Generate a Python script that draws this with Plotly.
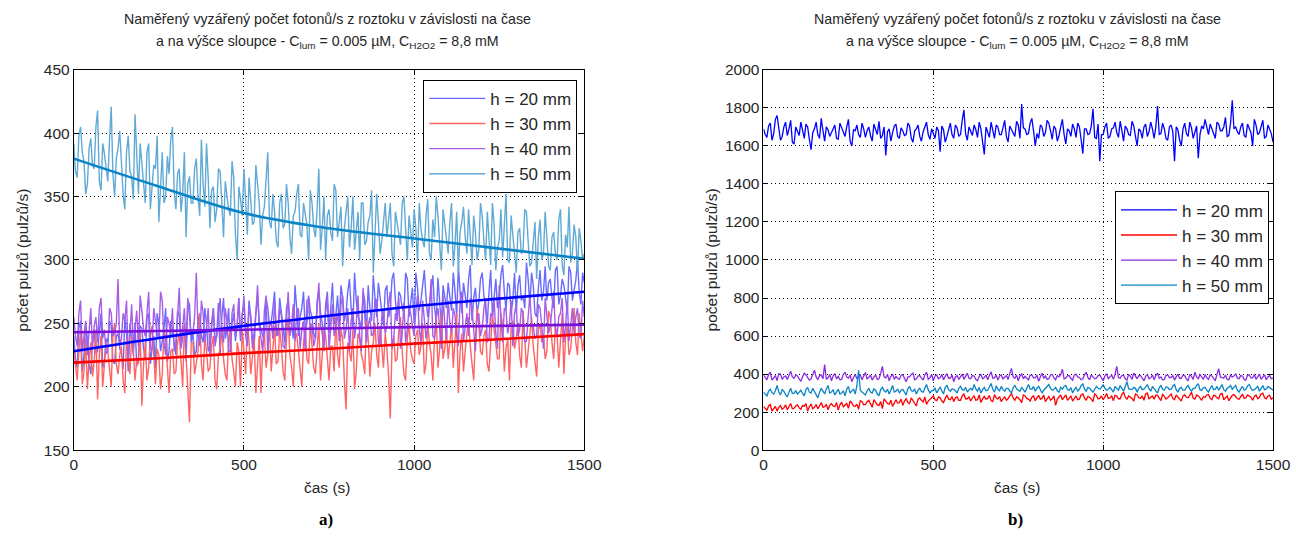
import plotly.graph_objects as go

# ---------------- data ----------------
step_s = 10  # time step of the main samples (s); *_mid samples lie half-way between

# panel a) noisy records
a_h20 = [240, 215, 252, 225, 238, 210, 245, 228, 258, 220,
         235, 248, 218, 242, 226, 255, 212, 238, 250, 224,
         246, 222, 258, 230, 215, 250, 236, 262, 228, 244,
         225, 256, 238, 220, 265, 242, 228, 258, 235, 250,
         232, 262, 240, 225, 270, 245, 230, 258, 248, 236,
         265, 240, 255, 232, 272, 246, 238, 262, 250, 275,
         242, 258, 235, 268, 250, 280, 240, 262, 245, 272,
         255, 238, 276, 250, 265, 242, 282, 256, 248, 270,
         258, 285, 246, 268, 252, 275, 240, 262, 288, 255,
         270, 248, 280, 262, 290, 252, 272, 258, 285, 265,
         250, 278, 268, 292, 255, 275, 262, 286, 248, 272,
         282, 260, 276, 295, 258, 270, 285, 252, 278, 266,
         290, 262, 275, 256, 285, 270, 296, 260, 280, 268,
         258, 288, 272, 298, 265, 280, 255, 292, 275, 268,
         285, 262, 295, 272, 280, 258, 290, 276, 300, 265, 282]
a_h20_mid = [222, 246, 212, 250, 218, 236, 226, 244, 215, 238,
             252, 220, 240, 230, 214, 242, 250, 225, 216, 248,
             230, 254, 218, 240, 258, 228, 245, 220, 252, 236,
             260, 230, 248, 268, 235, 225, 252, 240, 262, 228,
             250, 238, 266, 255, 238, 262, 250, 236, 270, 258,
             245, 268, 236, 258, 250, 240, 270, 248, 262, 240,
             270, 245, 262, 250, 238, 262, 255, 275, 250, 260,
             242, 268, 258, 238, 275, 262, 250, 272, 280, 252,
             275, 262, 290, 256, 245, 268, 280, 252, 270, 282,
             258, 276, 255, 285, 268, 275, 262, 290, 255, 278,
             290, 260, 282, 270, 265, 288, 252, 270, 280, 262,
             268, 290, 255, 275, 282, 262, 296, 270, 258, 285,
             272, 250, 292, 268, 262, 288, 275, 282, 258, 290,
             280, 268, 262, 285, 290, 258, 278, 268, 295, 282,
             270, 292, 265, 285, 270, 295, 268, 284, 275, 290]
a_h30 = [230, 205, 245, 212, 198, 235, 220, 190, 240, 215,
         228, 200, 250, 210, 232, 195, 222, 240, 205, 218,
         185, 235, 215, 248, 202, 225, 210, 238, 195, 230,
         212, 242, 200, 225, 172, 235, 218, 258, 205, 228,
         215, 240, 198, 230, 222, 205, 245, 212, 235, 200,
         228, 250, 210, 238, 218, 195, 242, 225, 212, 248,
         220, 232, 205, 255, 215, 238, 228, 200, 245, 218,
         235, 210, 250, 225, 240, 205, 232, 258, 215, 238,
         182, 228, 245, 212, 238, 220, 252, 208, 235, 225,
         248, 215, 230, 175, 240, 222, 255, 210, 238, 228,
         218, 245, 232, 210, 250, 225, 240, 215, 258, 230,
         222, 248, 235, 195, 242, 228, 255, 218, 238, 250,
         225, 245, 212, 258, 235, 222, 248, 230, 205, 252,
         238, 225, 260, 215, 245, 232, 208, 250, 240, 228,
         255, 222, 242, 235, 210, 248, 230, 262, 225, 245, 240]
a_h30_mid = [215, 228, 202, 238, 222, 208, 245, 225, 200, 235,
             212, 242, 218, 225, 205, 238, 210, 228, 222, 245,
             218, 205, 240, 222, 230, 198, 245, 215, 228, 210,
             235, 220, 250, 208, 235, 210, 228, 218, 240, 212,
             232, 205, 225, 248, 210, 238, 222, 200, 228, 245,
             210, 235, 222, 195, 240, 230, 215, 250, 228, 218,
             245, 212, 238, 225, 200, 242, 215, 235, 222, 250,
             215, 228, 205, 245, 218, 232, 212, 225, 245, 205,
             235, 220, 198, 242, 225, 210, 238, 228, 250, 215,
             230, 242, 208, 232, 220, 245, 228, 205, 250, 222,
             240, 225, 250, 218, 235, 205, 255, 230, 222, 245,
             235, 215, 258, 228, 212, 240, 232, 205, 262, 228,
             240, 218, 235, 245, 222, 258, 212, 238, 248, 230,
             250, 215, 240, 228, 255, 218, 245, 235, 222, 260,
             235, 248, 215, 258, 240, 225, 250, 235, 258, 228]
a_h40 = [255, 232, 268, 240, 225, 262, 248, 235, 270, 245,
         228, 258, 242, 285, 238, 252, 222, 265, 245, 232,
         260, 240, 275, 230, 252, 238, 268, 225, 250, 262,
         235, 278, 245, 228, 255, 242, 290, 232, 258, 246,
         225, 262, 240, 270, 235, 252, 228, 265, 248, 238,
         272, 232, 255, 245, 280, 238, 260, 226, 252, 268,
         240, 256, 230, 275, 248, 236, 262, 245, 228, 270,
         250, 238, 282, 242, 258, 230, 265, 248, 236, 272,
         245, 228, 262, 250, 240, 278, 235, 255, 242, 268,
         232, 260, 248, 275, 238, 252, 230, 266, 245, 258,
         240, 272, 235, 255, 248, 285, 238, 262, 230, 250,
         268, 242, 256, 232, 275, 250, 240, 262, 228, 258,
         246, 270, 238, 255, 242, 280, 235, 260, 250, 232,
         265, 245, 258, 236, 272, 248, 240, 262, 230, 255,
         248, 275, 240, 258, 235, 268, 250, 242, 262, 238, 255]
a_h40_mid = [240, 258, 228, 252, 245, 230, 255, 262, 238, 226,
             262, 240, 250, 232, 258, 268, 240, 232, 260, 272,
             246, 258, 230, 262, 242, 275, 235, 255, 240, 228,
             258, 232, 262, 270, 240, 255, 245, 268, 236, 262,
             250, 232, 255, 242, 262, 228, 258, 240, 270, 255,
             240, 262, 230, 258, 248, 228, 272, 248, 238, 245,
             262, 232, 255, 240, 265, 258, 230, 252, 268, 242,
             232, 262, 248, 228, 272, 246, 240, 258, 265, 238,
             262, 252, 238, 272, 228, 258, 248, 240, 270, 235,
             255, 242, 265, 230, 258, 270, 242, 235, 262, 248,
             260, 245, 268, 238, 262, 240, 255, 245, 272, 238,
             250, 262, 240, 268, 236, 258, 270, 245, 255, 240,
             262, 235, 258, 268, 230, 255, 262, 242, 268, 258,
             240, 262, 235, 255, 250, 238, 265, 248, 270, 242,
             262, 245, 255, 270, 248, 236, 262, 255, 240, 268]
a_h50 = [392, 365, 405, 378, 360, 396, 372, 418, 355, 384,
         362, 421, 350, 388, 372, 340, 398, 366, 415, 352,
         378, 345, 392, 360, 372, 330, 385, 350, 368, 405,
         340, 372, 352, 318, 366, 345, 380, 335, 360, 392,
         325, 358, 340, 370, 318, 352, 335, 365, 300, 348,
         372, 320, 345, 330, 360, 312, 342, 385, 325, 338,
         310, 352, 328, 345, 305, 338, 360, 318, 335, 300,
         345, 318, 372, 325, 300, 340, 315, 355, 330, 295,
         338, 310, 350, 322, 300, 345, 315, 335, 290, 352,
         305, 330, 318, 345, 295, 328, 312, 350, 300, 322,
         340, 298, 325, 310, 348, 300, 318, 335, 292, 328,
         305, 345, 312, 290, 330, 318, 340, 296, 322, 308,
         335, 300, 318, 345, 292, 315, 302, 352, 298, 320,
         290, 325, 308, 338, 295, 315, 285, 332, 305, 318,
         292, 322, 300, 340, 288, 310, 298, 328, 290, 315, 305]
a_h50_mid = [370, 398, 385, 352, 388, 375, 405, 362, 392, 370,
             395, 368, 380, 402, 352, 385, 370, 348, 378, 392,
             358, 385, 340, 375, 398, 360, 345, 382, 395, 355,
             368, 338, 385, 360, 345, 372, 350, 395, 342, 365,
             355, 330, 372, 345, 362, 340, 378, 320, 358, 335,
             342, 365, 328, 375, 345, 335, 368, 330, 352, 315,
             345, 325, 360, 318, 335, 352, 320, 345, 328, 355,
             325, 340, 308, 350, 335, 322, 360, 318, 342, 325,
             350, 325, 308, 338, 345, 312, 330, 355, 318, 330,
             315, 345, 330, 305, 338, 320, 345, 325, 335, 310,
             325, 345, 315, 335, 305, 332, 350, 310, 340, 318,
             330, 295, 338, 322, 342, 305, 318, 335, 300, 345,
             315, 338, 296, 328, 310, 340, 325, 300, 335, 310,
             322, 305, 340, 315, 298, 330, 318, 300, 338, 295,
             318, 305, 332, 296, 320, 342, 305, 318, 325, 300]

# panel a) fitted trends
fit_t = [0, 250, 500, 750, 1000, 1250, 1500]
fit_h20 = [228, 238.5, 248, 256, 263.5, 269.5, 275]
fit_h30 = [219, 222.5, 226.5, 230, 234, 237.5, 241.5]
fit_h40 = [243, 244, 245, 246, 247, 248, 249]
fit_h50 = [380, 358, 337, 325, 317, 309, 301]

# panel b) noisy records
b_h20 = [1690, 1645, 1720, 1665, 1760, 1630, 1700, 1655, 1735, 1610,
         1680, 1725, 1640, 1700, 1580, 1690, 1660, 1745, 1625, 1685,
         1670, 1710, 1635, 1695, 1650, 1740, 1600, 1680, 1660, 1720,
         1645, 1700, 1625, 1685, 1730, 1655, 1550, 1690, 1670, 1715,
         1640, 1680, 1660, 1705, 1620, 1690, 1650, 1675, 1725, 1635,
         1665, 1700, 1570, 1685, 1650, 1720, 1640, 1695, 1660, 1790,
         1630, 1680, 1710, 1645, 1690, 1555, 1670, 1725, 1640, 1700,
         1660, 1735, 1620, 1685, 1650, 1710, 1820, 1690, 1665, 1745,
         1600, 1640, 1700, 1670, 1720, 1635, 1690, 1655, 1740, 1610,
         1680, 1715, 1645, 1700, 1560, 1690, 1665, 1795, 1640, 1520,
         1660, 1720, 1650, 1695, 1670, 1730, 1625, 1690, 1655, 1705,
         1600, 1680, 1700, 1650, 1725, 1640, 1810, 1665, 1690, 1630,
         1710, 1520, 1685, 1600, 1720, 1650, 1695, 1670, 1535, 1705,
         1740, 1660, 1690, 1640, 1715, 1680, 1750, 1655, 1840, 1700,
         1660, 1720, 1645, 1690, 1600, 1710, 1670, 1735, 1650, 1690, 1620]
b_h20_mid = [1660, 1705, 1630, 1740, 1685, 1650, 1725, 1690, 1620, 1700,
             1655, 1690, 1715, 1635, 1670, 1725, 1640, 1680, 1700, 1650,
             1690, 1640, 1720, 1665, 1700, 1625, 1685, 1710, 1645, 1690,
             1680, 1655, 1715, 1660, 1640, 1700, 1675, 1625, 1705, 1650,
             1695, 1655, 1720, 1640, 1680, 1710, 1625, 1700, 1660, 1690,
             1640, 1680, 1705, 1620, 1695, 1660, 1710, 1650, 1735, 1665,
             1700, 1655, 1685, 1725, 1620, 1700, 1645, 1690, 1710, 1660,
             1695, 1650, 1705, 1665, 1730, 1640, 1695, 1660, 1720, 1680,
             1665, 1710, 1650, 1735, 1680, 1705, 1625, 1700, 1660, 1690,
             1650, 1690, 1720, 1635, 1690, 1660, 1705, 1645, 1715, 1660,
             1700, 1640, 1690, 1725, 1645, 1680, 1705, 1660, 1730, 1650,
             1690, 1640, 1715, 1675, 1690, 1700, 1660, 1720, 1640, 1700,
             1675, 1700, 1630, 1690, 1665, 1725, 1640, 1705, 1660, 1690,
             1690, 1715, 1660, 1725, 1680, 1700, 1650, 1720, 1690, 1675,
             1700, 1655, 1715, 1670, 1740, 1660, 1700, 1640, 1710, 1665]
b_h30 = [230, 210, 240, 218, 205, 235, 222, 212, 245, 220,
         238, 215, 230, 205, 242, 225, 218, 250, 228, 212,
         245, 228, 210, 252, 235, 220, 248, 230, 215, 255,
         240, 262, 225, 248, 235, 218, 258, 242, 230, 265,
         250, 235, 270, 245, 258, 232, 275, 252, 240, 268,
         285, 260, 275, 250, 290, 265, 255, 280, 262, 295,
         270, 258, 285, 265, 250, 282, 272, 260, 292, 268,
         255, 280, 270, 298, 262, 275, 250, 285, 268, 278,
         260, 288, 272, 255, 282, 270, 235, 278, 265, 290,
         275, 258, 285, 268, 295, 262, 278, 255, 288, 272,
         265, 298, 275, 260, 285, 270, 305, 268, 280, 258,
         290, 272, 262, 300, 278, 268, 288, 260, 282, 275,
         295, 265, 280, 258, 290, 275, 305, 268, 285, 262,
         278, 292, 265, 285, 270, 298, 275, 260, 288, 280,
         268, 295, 275, 285, 262, 290, 278, 300, 270, 288, 275]
b_h30_mid = [220, 232, 205, 230, 225, 215, 238, 228, 218, 232,
             222, 235, 245, 228, 218, 240, 232, 225, 240, 235,
             232, 250, 238, 228, 245, 258, 232, 242, 260, 238,
             255, 245, 265, 238, 255, 270, 245, 262, 250, 248,
             268, 258, 250, 275, 245, 268, 262, 280, 258, 275,
             265, 280, 258, 272, 268, 282, 275, 262, 285, 270,
             280, 275, 262, 290, 270, 268, 288, 255, 275, 282,
             270, 262, 285, 275, 280, 265, 290, 272, 258, 285,
             275, 268, 290, 270, 262, 285, 268, 290, 275, 262,
             285, 270, 265, 290, 275, 282, 268, 295, 270, 285,
             280, 272, 285, 288, 270, 292, 278, 285, 272, 295,
             275, 285, 295, 270, 285, 290, 272, 295, 268, 288,
             272, 290, 268, 285, 278, 288, 272, 290, 275, 282,
             290, 272, 288, 275, 295, 265, 285, 278, 292, 270,
             285, 272, 290, 278, 282, 270, 295, 275, 285, 268]
b_h40 = [395, 370, 410, 380, 365, 400, 385, 372, 415, 378,
         390, 362, 405, 383, 375, 420, 370, 395, 450, 380,
         365, 402, 388, 372, 410, 378, 360, 398, 385, 370,
         408, 382, 368, 395, 375, 440, 380, 365, 400, 388,
         372, 398, 360, 385, 405, 375, 392, 368, 410, 380,
         365, 395, 382, 370, 402, 378, 360, 392, 385, 372,
         405, 375, 390, 365, 398, 382, 370, 412, 380, 368,
         395, 385, 372, 430, 378, 365, 400, 388, 370, 396,
         380, 362, 405, 390, 375, 398, 370, 385, 425, 378,
         392, 368, 400, 382, 375, 410, 370, 388, 378, 395,
         365, 402, 385, 372, 440, 378, 395, 368, 388, 405,
         375, 392, 365, 398, 380, 370, 405, 385, 372, 396,
         382, 368, 400, 378, 392, 365, 388, 410, 375, 385,
         398, 372, 390, 365, 428, 380, 395, 370, 385, 402,
         375, 390, 368, 395, 380, 372, 400, 385, 370, 392, 378]
b_h40_mid = [380, 398, 368, 392, 402, 372, 390, 398, 385, 395,
             375, 385, 395, 368, 400, 385, 392, 375, 372, 398,
             390, 375, 370, 398, 385, 395, 382, 375, 398, 392,
             375, 395, 385, 372, 402, 385, 398, 388, 372, 378,
             392, 378, 385, 398, 370, 390, 380, 395, 372, 398,
             390, 375, 398, 388, 378, 395, 385, 372, 400, 390,
             378, 392, 372, 388, 375, 395, 392, 378, 395, 390,
             375, 392, 400, 385, 395, 390, 375, 378, 395, 380,
             395, 385, 378, 372, 395, 380, 392, 398, 375, 392,
             378, 395, 385, 370, 395, 382, 396, 375, 392, 380,
             390, 375, 395, 398, 382, 392, 375, 398, 372, 388,
             392, 378, 388, 375, 395, 392, 378, 370, 395, 382,
             392, 385, 378, 395, 375, 398, 372, 385, 398, 372,
             380, 395, 375, 398, 385, 378, 372, 395, 390, 378,
             392, 372, 395, 380, 398, 388, 372, 396, 385, 375]
b_h50 = [305, 285, 320, 295, 340, 290, 310, 280, 325, 300,
         295, 315, 285, 330, 300, 310, 275, 325, 295, 340,
         305, 290, 320, 300, 285, 335, 310, 295, 420, 305,
         290, 325, 300, 315, 285, 330, 305, 295, 340, 310,
         300, 320, 290, 335, 310, 295, 325, 305, 345, 300,
         315, 300, 330, 295, 340, 310, 320, 300, 335, 315,
         305, 325, 345, 310, 300, 330, 315, 350, 305, 320,
         335, 310, 325, 300, 340, 315, 330, 305, 345, 320,
         310, 335, 300, 325, 345, 315, 330, 305, 320, 340,
         315, 300, 330, 320, 350, 310, 325, 305, 335, 320,
         345, 315, 330, 305, 325, 340, 310, 360, 320, 330,
         305, 335, 320, 345, 310, 325, 300, 340, 315, 330,
         320, 345, 305, 330, 315, 340, 310, 325, 350, 315,
         330, 305, 340, 320, 315, 345, 310, 330, 320, 340,
         305, 335, 320, 345, 315, 325, 310, 340, 320, 330, 315]
b_h50_mid = [295, 310, 302, 312, 305, 318, 292, 305, 298, 312,
             305, 298, 318, 305, 325, 290, 305, 310, 322, 300,
             318, 305, 295, 312, 320, 300, 322, 340, 315, 298,
             312, 305, 322, 295, 318, 312, 320, 315, 305, 322,
             315, 305, 322, 312, 320, 315, 308, 325, 318, 312,
             325, 318, 312, 330, 318, 322, 312, 325, 318, 330,
             318, 315, 322, 330, 318, 312, 332, 320, 338, 312,
             318, 325, 312, 328, 322, 310, 318, 325, 322, 335,
             325, 318, 315, 338, 325, 320, 312, 330, 335, 318,
             328, 318, 310, 338, 322, 330, 315, 320, 325, 330,
             325, 320, 318, 335, 315, 322, 335, 322, 318, 325,
             325, 318, 330, 322, 335, 312, 328, 320, 332, 318,
             335, 318, 325, 315, 330, 322, 325, 340, 318, 328,
             315, 325, 318, 335, 330, 318, 325, 340, 330, 315,
             322, 315, 338, 325, 318, 335, 325, 318, 335, 322]

labels = ["h = 20 mm", "h = 30 mm", "h = 40 mm", "h = 50 mm"]
x_ticks = [0, 500, 1000, 1500]
ya_ticks = [150, 200, 250, 300, 350, 400, 450]
yb_ticks = [0, 200, 400, 600, 800, 1000, 1200, 1400, 1600, 1800, 2000]

title_l1 = "Naměřený vyzářený počet fotonů/s z roztoku v závislosti na čase"
title_l2 = "a na výšce sloupce - C<sub>lum</sub> = 0.005 µM, C<sub>H2O2</sub> = 8,8 mM"

# ---------------- styles ----------------
W, H = 1296, 555
FONT = "Liberation Sans, Arial, sans-serif"
TXT = "#262626"
a_noise_col = ["#6a6aff", "#ff6464", "#a45ee8", "#62aad6"]
a_fit_col = ["#0000ff", "#ff0000", "#7a10dc", "#0a84c6"]
b_col = ["#0000ff", "#ff0000", "#8a2be2", "#0a84c6"]

# calibration between layout pixels and pixels in the captured picture
SX, OX = 0.982, 4.3
SY, OY = 0.974, 6.8


def merge(main, mid):
    """Interleave main samples (t = 0, 10, ...) with half-step samples (t = 5, 15, ...)."""
    ys, ts = [], []
    for i, v in enumerate(main):
        ts.append(i * step_s)
        ys.append(v)
        if i < len(mid):
            ts.append(i * step_s + step_s / 2)
            ys.append(mid[i])
    return ts, ys


fig = go.Figure()

for name, s, m, c in zip(labels, [a_h20, a_h30, a_h40, a_h50],
                         [a_h20_mid, a_h30_mid, a_h40_mid, a_h50_mid], a_noise_col):
    t, y = merge(s, m)
    fig.add_trace(go.Scatter(x=t, y=y, mode="lines", name=name,
                             line=dict(color=c, width=1.4),
                             xaxis="x", yaxis="y", legend="legend"))
for s, c in zip([fit_h20, fit_h30, fit_h40, fit_h50], a_fit_col):
    fig.add_trace(go.Scatter(x=fit_t, y=s, mode="lines", showlegend=False,
                             line=dict(color=c, width=2.6, shape="spline"),
                             xaxis="x", yaxis="y"))
for name, s, m, c in zip(labels, [b_h20, b_h30, b_h40, b_h50],
                         [b_h20_mid, b_h30_mid, b_h40_mid, b_h50_mid], b_col):
    t, y = merge(s, m)
    fig.add_trace(go.Scatter(x=t, y=y, mode="lines", name=name,
                             line=dict(color=c, width=1.3),
                             xaxis="x2", yaxis="y2", legend="legend2"))


def px_x(p):
    return ((p - OX) / SX) / W


def px_y(p):
    return 1 - ((p - OY) / SY) / H


axis_common = dict(showline=True, linecolor="black", linewidth=1, mirror="ticks",
                   ticks="inside", ticklen=5, tickcolor="black",
                   showgrid=True, gridcolor="black", griddash="1px,3px", gridwidth=1,
                   zeroline=False, tickfont=dict(family=FONT, size=15.5, color=TXT))

fig.update_layout(
    width=W, height=H, margin=dict(l=0, r=0, t=0, b=0),
    paper_bgcolor="white", plot_bgcolor="white",
    font=dict(family=FONT, size=14, color=TXT),
    xaxis=dict(domain=[px_x(74), px_x(584)], range=[0, 1500], tickvals=x_ticks,
               anchor="y", **axis_common),
    yaxis=dict(domain=[px_y(450), px_y(68)], range=[150, 450], tickvals=ya_ticks,
               anchor="x", **axis_common),
    xaxis2=dict(domain=[px_x(763), px_x(1272)], range=[0, 1500], tickvals=x_ticks,
                anchor="y2", **axis_common),
    yaxis2=dict(domain=[px_y(450), px_y(68)], range=[0, 2000], tickvals=yb_ticks,
                anchor="x2", **axis_common),
    legend=dict(x=px_x(577), y=px_y(78), xanchor="right", yanchor="top",
                bgcolor="white", bordercolor="black", borderwidth=1,
                font=dict(family=FONT, size=17, color=TXT), itemwidth=56),
    legend2=dict(x=px_x(1268), y=px_y(190), xanchor="right", yanchor="top",
                 bgcolor="white", bordercolor="black", borderwidth=1,
                 font=dict(family=FONT, size=17, color=TXT), itemwidth=56),
)

ann = []
for cx in [327, 1017]:
    ann.append(dict(x=px_x(cx), y=px_y(17), xref="paper", yref="paper", text=title_l1,
                    showarrow=False, xanchor="center", yanchor="middle",
                    font=dict(family=FONT, size=14.2, color=TXT)))
    ann.append(dict(x=px_x(cx), y=px_y(40), xref="paper", yref="paper", text=title_l2,
                    showarrow=False, xanchor="center", yanchor="middle",
                    font=dict(family=FONT, size=14.2, color=TXT)))
    ann.append(dict(x=px_x(cx), y=px_y(488), xref="paper", yref="paper", text="čas (s)",
                    showarrow=False, xanchor="center", yanchor="middle",
                    font=dict(family=FONT, size=15.5, color=TXT)))
for cx in [22, 711]:
    ann.append(dict(x=px_x(cx), y=px_y(259), xref="paper", yref="paper",
                    text="počet pulzů (pulzů/s)", textangle=-90,
                    showarrow=False, xanchor="center", yanchor="middle",
                    font=dict(family=FONT, size=15.5, color=TXT)))
for cx, lab in [(326, "<b>a)</b>"), (1015, "<b>b)</b>")]:
    ann.append(dict(x=px_x(cx), y=px_y(520), xref="paper", yref="paper", text=lab,
                    showarrow=False, xanchor="center", yanchor="middle",
                    font=dict(family="Liberation Serif, Times New Roman, serif",
                              size=17, color="black")))
fig.update_layout(annotations=ann)

fig.write_html("out.html")
